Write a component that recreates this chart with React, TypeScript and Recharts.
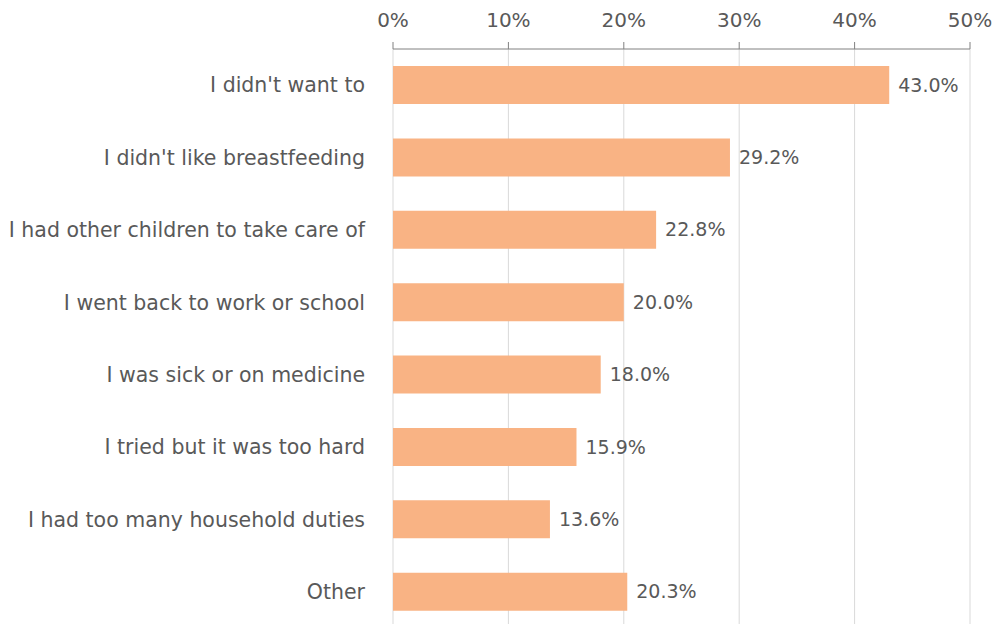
import { Bar, BarChart, CartesianGrid, LabelList, XAxis, YAxis } from "recharts";

const reasons = [
    "I didn't want to",
    "I didn't like breastfeeding",
    "I had other children to take care of",
    "I went back to work or school",
    "I was sick or on medicine",
    "I tried but it was too hard",
    "I had too many household duties",
    "Other",
];

const shares = [43.0, 29.2, 22.8, 20.0, 18.0, 15.9, 13.6, 20.3];

const xTicks = [0, 10, 20, 30, 40, 50];

const TEXT = "#595959";
const FONT = "'DejaVu Sans', 'Noto Sans', sans-serif";

const data = reasons.map((name, i) => ({ name, value: shares[i] }));

export default function App() {
    return (
        <div style={{ position: "absolute", left: 0, top: 0, background: "#fff" }}>
            <BarChart
                width={993}
                height={628}
                data={data}
                layout="vertical"
                barSize={38}
                margin={{ top: 9, right: 23, left: 0, bottom: 0 }}
                style={{ fontFamily: FONT }}
            >
                <CartesianGrid horizontal={false} stroke="#d9d9d9" strokeWidth={1} />
                <XAxis
                    type="number"
                    orientation="top"
                    domain={[0, 50]}
                    ticks={xTicks}
                    tickFormatter={(v) => `${v}%`}
                    height={40}
                    tickSize={7}
                    tickMargin={15}
                    stroke="#808080"
                    tick={{ fill: TEXT, fontSize: 20 }}
                    interval={0}
                />
                <YAxis
                    type="category"
                    dataKey="name"
                    width={393}
                    axisLine={false}
                    tickLine={false}
                    tickSize={0}
                    tickMargin={28}
                    tick={{ fill: TEXT, fontSize: 20.5 }}
                    interval={0}
                />
                <Bar dataKey="value" fill="#f9b384" isAnimationActive={false}>
                    <LabelList
                        dataKey="value"
                        position="right"
                        offset={9}
                        formatter={(v: number) => `${v.toFixed(1)}%`}
                        style={{ fill: TEXT, fontSize: 19 }}
                    />
                </Bar>
            </BarChart>
        </div>
    );
}
